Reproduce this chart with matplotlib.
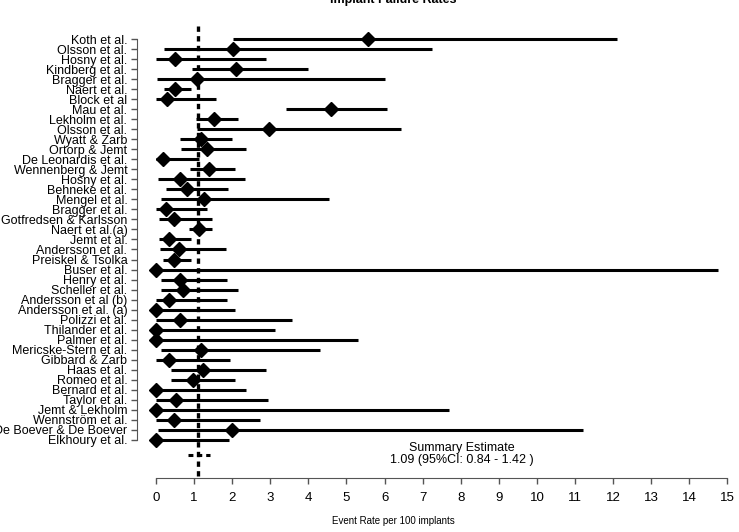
import matplotlib
matplotlib.use("Agg")
import matplotlib.pyplot as plt

plt.rcParams['font.family'] = ['Liberation Sans', 'DejaVu Sans']

# study data (event rate per 100 implants)
studies = ['Koth et al.', 'Olsson et al.', 'Hosny et al.', 'Kindberg et al.', 'Bragger et al.',
           'Naert et al.', 'Block et al', 'Mau et al.', 'Lekholm et al.', 'Olsson et al.',
           'Wyatt & Zarb', 'Ortorp & Jemt', 'De Leonardis et al.', 'Wennenberg & Jemt',
           'Hosny et al.', 'Behneke et al.', 'Mengel et al.', 'Bragger et al.',
           'Gotfredsen & Karlsson', 'Naert et al.(a)', 'Jemt et al.', 'Andersson et al.',
           'Preiskel & Tsolka', 'Buser et al.', 'Henry et al.', 'Scheller et al.',
           'Andersson et al (b)', 'Andersson et al. (a)', 'Polizzi et al.', 'Thilander et al.',
           'Palmer et al.', 'Mericske-Stern et al.', 'Gibbard & Zarb', 'Haas et al.',
           'Romeo et al.', 'Bernard et al.', 'Taylor et al.', 'Jemt & Lekholm',
           'Wennström et al.', 'De Boever & De Boever', 'Elkhoury et al.']
rate = [5.57, 2.02, 0.51, 2.09, 1.08, 0.49, 0.28, 4.59, 1.53, 2.96,
        1.18, 1.34, 0.18, 1.38, 0.64, 0.80, 1.26, 0.25, 0.48, 1.14,
        0.35, 0.61, 0.46, 0.0, 0.64, 0.72, 0.33, 0.0, 0.63, 0.0,
        0.0, 1.18, 0.35, 1.22, 0.96, 0.0, 0.53, 0.0, 0.48, 2.0, 0.0]
lower = [2.02, 0.21, 0.0, 0.95, 0.02, 0.21, 0.0, 3.40, 1.05, 1.08,
         0.64, 0.66, 0.0, 0.88, 0.06, 0.25, 0.13, 0.0, 0.08, 0.86,
         0.08, 0.11, 0.19, 0.0, 0.13, 0.13, 0.0, 0.0, 0.0, 0.0,
         0.0, 0.13, 0.0, 0.38, 0.38, 0.0, 0.0, 0.0, 0.0, 0.04, 0.0]
upper = [12.1, 7.25, 2.89, 4.0, 6.0, 0.91, 1.58, 6.06, 2.14, 6.44,
         2.0, 2.35, 1.14, 2.06, 2.34, 1.90, 4.55, 1.35, 1.47, 1.48,
         0.91, 1.83, 0.91, 14.75, 1.85, 2.16, 1.85, 2.06, 3.56, 3.11,
         5.29, 4.31, 1.95, 2.89, 2.06, 2.35, 2.95, 7.70, 2.72, 11.2, 1.92]
summary = 1.09
summary_ci = (0.84, 1.42)

fig = plt.figure(figsize=(7.39, 5.32), dpi=100)
ax = fig.add_axes([137 / 739, 1 - 478 / 532, (735 - 137) / 739, (478 - 24) / 532])

ypos = [-i for i in range(len(studies))]
for y, r, lo, hi in zip(ypos, rate, lower, upper):
    ax.plot([lo, hi], [y, y], color='black', lw=2.2, solid_capstyle='butt')
ax.plot(rate, ypos, 'D', color='black', ms=7.5)

# summary estimate
dash = (0, (1.6, 1.3))
ax.plot(summary_ci, [-41.5, -41.5], color='black', lw=2.2, linestyle=dash)
ax.plot([summary, summary], [-43.6, 1.5], color='black', lw=2.4, linestyle=dash)
ax.text(8.04, -41.4, 'Summary Estimate\n1.09 (95%CI: 0.84 - 1.42 )', ha='center', va='center',
        fontsize=9, linespacing=0.95)

ax.set_xlim(-0.5, 15.2)
ax.set_ylim(-43.8, 1.5)
ax.set_xticks(range(16))
ax.set_yticks(ypos)
ax.set_yticklabels(studies, fontsize=9.0)
ax.tick_params(axis='x', labelsize=9.5, length=4, width=1, color='#555555', pad=6)
ax.tick_params(axis='y', length=4, width=1, color='#555555', pad=3)
for s in ['top', 'right']:
    ax.spines[s].set_visible(False)
ax.spines['left'].set_bounds(-40, 0)
ax.spines['bottom'].set_bounds(0, 15)
for s in ['left', 'bottom']:
    ax.spines[s].set_color('#555555')

fig.text(393 / 739, 1.0, 'Implant Failure Rates', ha='center', va='center', fontsize=9, fontweight='bold')
fig.text(393 / 739, 1 - 521 / 532, 'Event Rate per 100 implants', ha='center', va='center', fontsize=7)

fig.savefig('out.png', dpi=100)
